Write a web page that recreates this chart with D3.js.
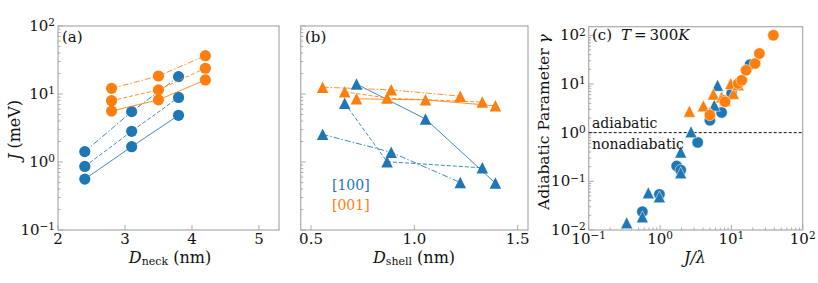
<!DOCTYPE html>
<html><head><meta charset="utf-8">
<script src="https://cdn.jsdelivr.net/npm/d3@7"></script>
<style>body{margin:0;background:#fff}svg{display:block}text{font-family:"DejaVu Serif",serif;fill:#111}</style>
</head><body><svg id="c" width="818" height="283"></svg>
<script>
// ---------- data ----------
const BLUE = "#1f77b4", ORANGE = "#ff7f0e";
// panel (a)
const neckBlue = [2.4, 3.1, 3.8];
const neckOrange = [2.8, 3.5, 4.2];
const jBlueNeck = [[1.42, 5.5, 18], [0.86, 2.83, 8.9], [0.56, 1.68, 4.86]];
const jOrangeNeck = [[12.1, 18.4, 36.6], [7.97, 11.5, 23.9], [5.6, 8.2, 16.1]];
// panel (b)
const shells = [[0.556, 0.888, 1.222], [0.663, 0.868, 1.329], [0.72, 1.054, 1.392]];
const jBlueShell = [[2.55, 1.39, 0.5], [7.3, 1.01, 0.82], [14, 4.3, 0.49]];
const jOrangeShell = [[12.6, 11.5, 9.3], [10.8, 8.7, 7.6], [8.5, 8.2, 6.7]];
const styles = ["6,2,1.5,2", "4,2", null];
// panel (c)
const bcX = [0.565, 0.98, 1.71, 1.95, 3.37, 5.0, 7.3, 10.1, 18.3];
const bcY = [0.0238, 0.054, 0.206, 0.17, 0.63, 1.8, 2.6, 6.4, 25];
const btX = [0.341, 0.565, 0.685, 0.98, 1.95, 1.95, 2.72, 5.77, 6.4];
const btY = [0.0141, 0.0187, 0.058, 0.048, 0.15, 0.40, 1.04, 3.67, 9.4];
const ocX = [5.0, 7.8, 8.15, 12.5, 14, 16.1, 21.5, 24.7, 38.8];
const ocY = [2.3, 4.6, 4.3, 10.2, 11.9, 19.1, 26.3, 42.1, 100];
const otX = [2.58, 4.05, 5.0, 5.6, 7.3, 8.15, 9.8, 10.7, 12.5];
const otY = [2.76, 3.55, 2.6, 6.2, 5.4, 4.6, 10.2, 6.4, 9.6];
const xTicksA = [2, 3, 4, 5];
const xTicksB = [0.5, 1.0, 1.5];
const logTicksJ = [-1, 0, 1, 2];
const logTicksC = [-2, -1, 0, 1, 2];
const logTicksCx = [-1, 0, 1, 2];

// ---------- layout ----------
const svg = d3.select("#c");
const FR = "#ababab";
const T = 26, B = 230;
const ax = {
  a: {x: d3.scaleLinear([2, 5.3], [58, 279]), y: d3.scaleLog([0.1, 100], [B, T])},
  b: {x: d3.scaleLinear([0.45, 1.55], [300.7, 528]), y: d3.scaleLog([0.1, 100], [B, T])},
  c: {x: d3.scaleLog([0.1, 100], [588.7, 802.7]), y: d3.scaleLog([0.01, 150], [B, T + 0.7])}
};

function frame(p) {
  const [x0, x1] = p.x.range(), [y0, y1] = p.y.range();
  svg.append("rect").attr("x", x0).attr("y", y1).attr("width", x1 - x0).attr("height", y0 - y1)
    .attr("fill", "none").attr("stroke", FR).attr("stroke-width", 1.2);
}
function tickLines(p, which, vals, len) {
  const [x0] = p.x.range(), [y0] = p.y.range();
  const g = svg.append("g").attr("stroke", FR).attr("stroke-width", 1);
  vals.forEach(v => {
    if (which === "y") { const y = p.y(v); g.append("line").attr("x1", x0).attr("x2", x0 + len).attr("y1", y).attr("y2", y); }
    else { const x = p.x(v); g.append("line").attr("x1", x).attr("x2", x).attr("y1", y0).attr("y2", y0 - len); }
  });
}
function minorLog(lo, hi) {
  const out = [];
  for (let e = lo; e < hi; e++) for (let k = 2; k <= 9; k++) out.push(k * Math.pow(10, e));
  return out;
}
function powLabel(sel, e) {
  sel.append("tspan").text("10");
  sel.append("tspan").attr("dy", "-0.45em").attr("font-size", "10.5px").text(e < 0 ? "\u2212" + (-e) : String(e));
}

// ----- panel (a)
(function () {
  const p = ax.a;
  frame(p);
  tickLines(p, "y", logTicksJ.map(e => Math.pow(10, e)), 5);
  tickLines(p, "y", minorLog(-1, 2), 2.5);
  tickLines(p, "x", xTicksA, 5);
  logTicksJ.forEach(e => {
    const t = svg.append("text").attr("x", p.x.range()[0] - 3).attr("y", p.y(Math.pow(10, e)) + 5)
      .attr("text-anchor", "end").attr("font-size", "15px");
    powLabel(t, e);
  });
  xTicksA.forEach(v => svg.append("text").attr("x", p.x(v)).attr("y", 244).attr("text-anchor", "middle")
    .attr("font-size", "15px").text(v));
  const line = d3.line().x(d => p.x(d[0])).y(d => p.y(d[1]));
  [[neckBlue, jBlueNeck, BLUE], [neckOrange, jOrangeNeck, ORANGE]].forEach(([xs, ys, col]) => {
    ys.forEach((s, i) => {
      svg.append("path").attr("d", line(xs.map((x, j) => [x, s[j]]))).attr("fill", "none")
        .attr("stroke", col).attr("stroke-width", 1).attr("stroke-opacity", 0.85)
        .attr("stroke-dasharray", styles[i]);
    });
    ys.forEach(s => s.forEach((v, j) => svg.append("circle").attr("cx", p.x(xs[j])).attr("cy", p.y(v))
      .attr("r", 5.6).attr("fill", col)));
  });
  svg.append("text").attr("x", 62).attr("y", 42).attr("font-size", "15px").text("(a)");
  const xl = svg.append("text").attr("x", 170).attr("y", 263).attr("text-anchor", "middle").attr("font-size", "16px");
  xl.append("tspan").attr("font-style", "italic").text("D");
  xl.append("tspan").attr("font-size", "11px").attr("dy", "2").text("neck");
  xl.append("tspan").attr("dy", "-2").text(" (nm)");
  const yl = svg.append("text").attr("transform", "translate(20,130) rotate(-90)").attr("text-anchor", "middle").attr("font-size", "16px");
  yl.append("tspan").attr("font-style", "italic").text("J");
  yl.append("tspan").text(" (meV)");
})();

function tri(x, y, s) { return `M${x},${y - s / 2}L${x + s / 2},${y + s / 2}L${x - s / 2},${y + s / 2}Z`; }

// ----- panel (b)
(function () {
  const p = ax.b;
  frame(p);
  tickLines(p, "y", logTicksJ.map(e => Math.pow(10, e)), 5);
  tickLines(p, "y", minorLog(-1, 2), 2.5);
  tickLines(p, "x", xTicksB, 5);
  xTicksB.forEach(v => svg.append("text").attr("x", p.x(v)).attr("y", 244).attr("text-anchor", "middle")
    .attr("font-size", "15px").text(v.toFixed(1)));
  const line = d3.line().x(d => p.x(d[0])).y(d => p.y(d[1]));
  [[jBlueShell, BLUE], [jOrangeShell, ORANGE]].forEach(([ys, col]) => {
    ys.forEach((s, i) => svg.append("path").attr("d", line(shells[i].map((x, j) => [x, s[j]]))).attr("fill", "none")
      .attr("stroke", col).attr("stroke-width", 1).attr("stroke-opacity", 0.85).attr("stroke-dasharray", styles[i]));
  });
  [[jBlueShell, BLUE], [jOrangeShell, ORANGE]].forEach(([ys, col]) => {
    ys.forEach((s, i) => s.forEach((v, j) => svg.append("path").attr("d", tri(p.x(shells[i][j]), p.y(v), 11.5)).attr("fill", col)));
  });
  svg.append("text").attr("x", 305).attr("y", 42).attr("font-size", "15px").text("(b)");
  svg.append("text").attr("x", 332).attr("y", 190).attr("font-size", "14px").style("fill", BLUE).text("[100]");
  svg.append("text").attr("x", 332).attr("y", 210).attr("font-size", "14px").style("fill", ORANGE).text("[001]");
  const xl = svg.append("text").attr("x", 414).attr("y", 263).attr("text-anchor", "middle").attr("font-size", "16px");
  xl.append("tspan").attr("font-style", "italic").text("D");
  xl.append("tspan").attr("font-size", "11px").attr("dy", "2").text("shell");
  xl.append("tspan").attr("dy", "-2").text(" (nm)");
})();

// ----- panel (c)
(function () {
  const p = ax.c;
  frame(p);
  tickLines(p, "y", logTicksC.map(e => Math.pow(10, e)), 5);
  tickLines(p, "y", minorLog(-2, 2).filter(v => v <= 150), 2.5);
  tickLines(p, "x", logTicksCx.map(e => Math.pow(10, e)), 5);
  tickLines(p, "x", minorLog(-1, 2), 2.5);
  logTicksC.forEach(e => {
    const t = svg.append("text").attr("x", p.x.range()[0] - 3).attr("y", p.y(Math.pow(10, e)) + 5)
      .attr("text-anchor", "end").attr("font-size", "15px");
    powLabel(t, e);
  });
  logTicksCx.forEach(e => {
    const t = svg.append("text").attr("x", Math.min(p.x(Math.pow(10, e)), 803)).attr("y", 244).attr("text-anchor", "middle").attr("font-size", "15px");
    powLabel(t, e);
  });
  svg.append("line").attr("x1", p.x.range()[0]).attr("x2", p.x.range()[1]).attr("y1", p.y(1)).attr("y2", p.y(1))
    .attr("stroke", "#111").attr("stroke-width", 1).attr("stroke-dasharray", "3,2");
  const dot = (xs, ys, col) => xs.forEach((x, i) => svg.append("circle").attr("cx", p.x(x)).attr("cy", p.y(ys[i]))
    .attr("r", 5.7).attr("fill", col).attr("stroke", "#fff").attr("stroke-width", 0.5));
  const tr = (xs, ys, col) => xs.forEach((x, i) => svg.append("path").attr("d", tri(p.x(x), p.y(ys[i]), 12))
    .attr("fill", col).attr("stroke", "#fff").attr("stroke-width", 0.5));
  dot(bcX, bcY, BLUE);
  tr(btX, btY, BLUE);
  tr(otX, otY, ORANGE);
  dot(ocX, ocY, ORANGE);
  svg.append("text").attr("x", 592).attr("y", 128).attr("font-size", "14px").text("adiabatic");
  svg.append("text").attr("x", 592).attr("y", 149).attr("font-size", "14px").text("nonadiabatic");
  svg.append("text").attr("x", 592).attr("y", 40).attr("font-size", "15px").text("(c)");
  const tt = svg.append("text").attr("x", 621).attr("y", 40).attr("font-size", "15px");
  tt.append("tspan").attr("font-style", "italic").text("T");
  tt.append("tspan").text("\u2009=\u2009300");
  tt.append("tspan").attr("font-style", "italic").text("K");
  const xl = svg.append("text").attr("x", 695).attr("y", 263).attr("text-anchor", "middle").attr("font-size", "16px");
  xl.append("tspan").attr("font-style", "italic").text("J/\u03bb");
  const yl = svg.append("text").attr("transform", "translate(549,122) rotate(-90)").attr("text-anchor", "middle").attr("font-size", "15.5px");
  yl.append("tspan").text("Adiabatic Parameter ");
  yl.append("tspan").attr("font-style", "italic").text("\u03b3");
})();
</script></body></html>
